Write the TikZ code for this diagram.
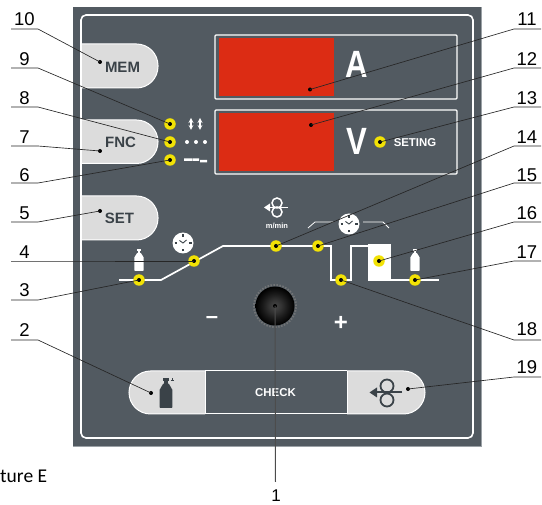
\documentclass[tikz,border=0pt]{standalone}
\usepackage{fontspec}
\setmainfont{Liberation Sans}
\newfontfamily\capfont{Carlito}
\definecolor{panelc}{HTML}{525A61}
\definecolor{edgec}{HTML}{9BA1A6}
\definecolor{btnc}{HTML}{DCDCDC}
\definecolor{inkc}{HTML}{3A4248}
\definecolor{redc}{HTML}{DC2C14}
\definecolor{ledc}{HTML}{F2E205}
\pgfdeclareradialshading{knobshade}{\pgfpointorigin}{color(0bp)=(black!72); color(8bp)=(black!80); color(16bp)=(black!90); color(25bp)=(black); color(50bp)=(black)}
\newcommand{\bottleicon}[4]{\begin{scope}[shift={(#1,#2)},scale=#3]
\fill[#4,rounded corners=.6pt] (-4.6,0) -- (-4.6,-13) .. controls (-4.6,-15.5) and (-2.4,-15.5) .. (-2.2,-18) -- (2.2,-18) .. controls (2.4,-15.5) and (4.6,-15.5) .. (4.6,-13) -- (4.6,0) -- cycle;
\fill[#4] (-2.4,-22) rectangle (2.4,-19.8);
\fill[#4] (-1.2,-20) rectangle (1.2,-17.8);
\end{scope}}
\newcommand{\clockicon}[2]{\begin{scope}[shift={(#1,#2)}]
\fill[white] (0,0) circle[radius=10.5pt];
\draw[inkc,line width=1.2pt] (0,-8.5) -- (0,-6) (0,8.5) -- (0,6) (-8.5,0) -- (-6,0) (8.5,0) -- (6,0);
\draw[inkc,line width=.9pt] (-3.5,-2.5) -- (0,0) -- (3.5,-3);
\end{scope}}
\tikzset{
 x=1pt,y=-1pt,
 btn/.style={fill=btnc,draw=white,line width=1pt},
 btntext/.style={text=inkc,font=\fontsize{15}{15}\selectfont\bfseries,inner sep=0pt},
 whitetext/.style={text=white,font=\fontsize{11.4}{12}\selectfont\bfseries,inner sep=0pt},
 bigtext/.style={text=white,font=\fontsize{38}{38}\selectfont\bfseries,inner sep=0pt,xscale=.82},
 numlabel/.style={text=black,font=\fontsize{18.5}{18.5}\selectfont,inner sep=0pt},
 leader/.style={draw=black!85,line width=.65pt},
 frameline/.style={draw=white,line width=1.6pt},
 wave/.style={draw=white,line width=1.7pt},
 ledring/.style={circle,fill=ledc,draw=none,minimum size=11.5pt,inner sep=0pt},
 enddot/.style={circle,fill=black,draw=none,minimum size=4pt,inner sep=0pt},
}
\begin{document}
\begin{tikzpicture}
\useasboundingbox (0,0) rectangle (542,505);
% panel
\fill[panelc] (73,7) rectangle (481,446);
\draw[edgec,line width=.8pt] (73,446) -- (481,446) -- (481,7);
\draw[frameline,rounded corners=5pt] (81,15) rectangle (473,438);
% displays
\draw[white,line width=1.2pt,rounded corners=1pt] (215,35) rectangle (457,99);
\draw[white,line width=1.2pt,rounded corners=1pt] (215,110) rectangle (457,174);
\node[fill=redc,minimum width=115pt,minimum height=58pt,inner sep=0pt] (redA) at (276.5,67) {};
\node[fill=redc,minimum width=115pt,minimum height=58pt,inner sep=0pt] (redV) at (276.5,142) {};
\node[bigtext] (letA) at (357,64.5) {A};
\node[bigtext] (letV) at (356.5,141) {V};
\node[whitetext] (seting) at (415,142.5) {SETING};
% left buttons
\draw[btn,rounded corners=21.5pt] (82,44) -- (158,44) -- (158,88) [sharp corners] -- (82,88);
\draw[btn,rounded corners=21.5pt] (82,120) -- (158,120) -- (158,163.5) [sharp corners] -- (82,163.5);
\draw[btn,rounded corners=21.5pt] (82,196) -- (158,196) -- (158,240) [sharp corners] -- (82,240);
\node[btntext] (mem) at (122.5,67) {MEM};
\node[btntext] (fnc) at (120.5,142.5) {FNC};
\node[btntext] (setb) at (119.5,218.5) {SET};
% function icons
\draw[white,line width=1.2pt,<->,>=stealth] (191,118) -- (191,130);
\draw[white,line width=1.2pt,<->,>=stealth] (200,118) -- (200,130);
\fill[white] (187,142) circle[radius=2pt] (196,142) circle[radius=2pt] (205,142) circle[radius=2pt];
\fill[white] (184,158.5) rectangle (192,161) (192.5,158.5) rectangle (199,161) (200,160) rectangle (207,162.5);
% waveform
\draw[wave] (119,280) -- (161,280) -- (223,246) -- (331,246) -- (331,280) -- (351,280) -- (351,246) -- (368,246);
\draw[wave] (391,280) -- (439,280);
\fill[white] (368,244) rectangle (391,281);
\draw[white,line width=.8pt] (308,228) -- (315,222) -- (333,222);
\draw[white,line width=.8pt] (363,222) -- (383,222) -- (389,228);
\clockicon{183}{243}
\clockicon{349}{224}
\bottleicon{139}{271}{1}{white}
\bottleicon{415}{271}{1}{white}
% wire feed icon
\draw[white,line width=1.5pt] (277,203) circle[radius=5pt] (277,212) circle[radius=5pt];
\draw[white,line width=1.5pt] (288,207.5) -- (268,207.5);
\fill[white] (264,207.5) -- (270,203.5) -- (270,211.5) -- cycle;
\node[text=white,font=\fontsize{7.5}{8}\selectfont\bfseries,inner sep=0pt] (mmin) at (277,226) {m/min};
% knob
\draw[gray!70!panelc,line width=2pt,dash pattern=on 1.5pt off 1.5pt] (275,306) circle[radius=21pt];
\shade[shading=knobshade] (275,306) circle[radius=19.5pt];
\node[text=white,font=\fontsize{22}{22}\selectfont\bfseries,inner sep=0pt] (minus) at (212,320) {–};
\node[text=white,font=\fontsize{24}{24}\selectfont\bfseries,inner sep=0pt] (plus) at (341,323) {+};
% bottom bar
\draw[btn,rounded corners=21.5pt] (205,371) -- (129,371) -- (129,414) [sharp corners] -- (205,414);
\draw[btn,rounded corners=21.5pt] (347,371) -- (425,371) -- (425,414) [sharp corners] -- (347,414);
\draw[white,line width=1pt] (205,371) -- (347,371) (205,414) -- (347,414) (205.5,371) -- (205.5,414) (347,371) -- (347,414);
\node[whitetext] (check) at (275.5,393) {CHECK};
\bottleicon{166}{408}{1.36}{inkc}
\draw[inkc,line width=.6pt] (170.5,380) -- (173.5,380) (172,378.5) -- (172,381.5);
\draw[inkc,line width=1.8pt] (387,386) circle[radius=6.5pt] (387,400) circle[radius=6.5pt];
\draw[inkc,line width=2pt] (402,392.5) -- (374,392.5);
\fill[inkc] (369.5,392.5) -- (377,387.5) -- (377,397.5) -- cycle;
% LEDs
\foreach \n/\px/\py in {ledA/170/124,ledB/170/142,ledC/170/160,ledD/380/142,ledE/139/280,ledF/194/261,ledG/276/246,ledH/318/246,ledI/379/261,ledJ/415/280,ledK/341/280}{
 \node[ledring] (\n) at (\px,\py) {};
 \node[enddot] (\n c) at (\px,\py) {};
}
% leader end points on controls
\node[enddot] (pMem) at (100,62) {};
\node[enddot] (pFnc) at (100,151) {};
\node[enddot] (pSet) at (100,211) {};
\node[enddot] (pGas) at (151,393) {};
\node[enddot] (pFan) at (408,389) {};
\node[enddot] (pDisA) at (310,89.5) {};
\node[enddot] (pDisV) at (311,125) {};
\node[enddot] (pKnob) at (275,306) {};
% numbers and their rules
\foreach \n/\ty/\uy/\t in {l10/19/29/10,l9/59/68/9,l8/98/107/8,l7/137/146/7,l6/175/183/6,l5/213/222/5,l4/252/261/4,l3/290/300/3,l2/330/340/2}{
 \node[numlabel] (\n) at (24.5,\ty) {\t};
 \coordinate (\n a) at (11,\uy);
 \coordinate (\n b) at (38,\uy);
}
\foreach \n/\ty/\uy/\t in {r11/19/29/11,r12/59/68/12,r13/98/107/13,r14/137/146/14,r15/175/183/15,r16/213/222/16,r17/252/261/17,r18/329/340/18,r19/367/377/19}{
 \node[numlabel] (\n) at (527,\ty) {\t};
 \coordinate (\n a) at (541,\uy);
 \coordinate (\n b) at (514,\uy);
}
\draw[leader] (l10a) -- (l10b) -- (pMem.center);
\draw[leader] (l9a) -- (l9b) -- (ledAc.center);
\draw[leader] (l8a) -- (l8b) -- (ledBc.center);
\draw[leader] (l7a) -- (l7b) -- (pFnc.center);
\draw[leader] (l6a) -- (l6b) -- (ledCc.center);
\draw[leader] (l5a) -- (l5b) -- (pSet.center);
\draw[leader] (l4a) -- (l4b) -- (ledFc.center);
\draw[leader] (l3a) -- (l3b) -- (ledEc.center);
\draw[leader] (l2a) -- (l2b) -- (pGas.center);
\draw[leader] (r11a) -- (r11b) -- (pDisA.center);
\draw[leader] (r12a) -- (r12b) -- (pDisV.center);
\draw[leader] (r13a) -- (r13b) -- (ledDc.center);
\draw[leader] (r14a) -- (r14b) -- (ledGc.center);
\draw[leader] (r15a) -- (r15b) -- (ledHc.center);
\draw[leader] (r16a) -- (r16b) -- (ledIc.center);
\draw[leader] (r17a) -- (r17b) -- (ledJc.center);
\draw[leader] (r18a) -- (r18b) -- (ledKc.center);
\draw[leader] (r19a) -- (r19b) -- (pFan.center);
\node[numlabel,font=\fontsize{17}{17}\selectfont] (one) at (276,495.5) {1};
\coordinate (oneTop) at (275.5,482);
\draw[draw=black!70,line width=1pt] (oneTop) -- (pKnob.center);
\node[anchor=base west,inner sep=0pt,font=\capfont\fontsize{19.5}{20}\selectfont,text=black] (cap) at (0,483) {ture E};
\end{tikzpicture}
\end{document}
